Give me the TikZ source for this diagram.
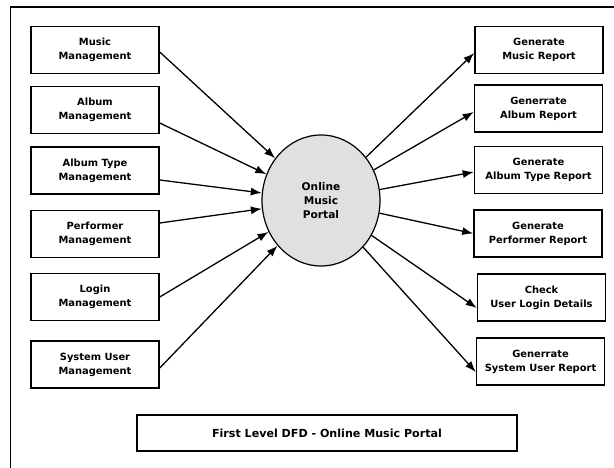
\documentclass[tikz,border=0pt]{standalone}
\usepackage{fontspec}
\setmainfont{DejaVu Sans}
\usetikzlibrary{shapes.geometric,arrows.meta}
\definecolor{portalgray}{HTML}{E0E0E0}
\begin{document}
\begin{tikzpicture}[x=1pt,y=-1pt,
	every node/.style={font=\bfseries\fontsize{9.9}{13.8}\selectfont, align=center},
	procbox/.style={draw, line width=1.5pt, minimum width=128pt, minimum height=47pt, inner sep=2pt},
	flow/.style={-{Latex[length=11pt,width=8pt]}, line width=1.3pt}]
		\useasboundingbox (0,0) rectangle (614,468);
		\draw[line width=1.5pt] (10.5,468) -- (10.5,7) -- (614,7);
		% left side
		\node[procbox] (mm) at (95,50) {Music\\Management};
		\node[procbox] (am) at (95,110) {Album\\Management};
		\node[procbox] (atm) at (95,170.5) {Album Type\\Management};
		\node[procbox] (pm) at (95,234) {Performer\\Management};
		\node[procbox] (lm) at (95,297) {Login\\Management};
		\node[procbox] (sum) at (95,364.5) {System User\\Management};
		% centre
		\node[ellipse, draw, line width=1.2pt, fill=portalgray, minimum width=118pt, minimum height=131pt, inner sep=0pt,
			font=\bfseries\fontsize{10.6}{14}\selectfont] (portal) at (321,200.5) {Online\\Music\\Portal};
		% right side
		\node[procbox] (gmr) at (539,50) {Generate\\Music Report};
		\node[procbox] (gar) at (538.5,108.5) {Generrate\\Album Report};
		\node[procbox] (gatr) at (538.5,170) {Generate\\Album Type Report};
		\node[procbox] (gpr) at (538,233.5) {Generate\\Performer Report};
		\node[procbox] (culd) at (541.5,297.5) {Check\\User Login Details};
		\node[procbox] (gsur) at (540.5,361.5) {Generrate\\System User Report};
		\node[draw, line width=1.5pt, minimum width=380pt, minimum height=36pt,
			font=\bfseries\fontsize{11.1}{14}\selectfont] (title) at (327,433) {First Level DFD - Online Music Portal};
		\draw[flow] ([yshift=-2pt]mm.east) -- (portal);
		\draw[flow] ([yshift=-13pt]am.east) -- (portal);
		\draw[flow] ([yshift=-9.5pt]atm.east) -- (portal);
		\draw[flow] ([yshift=11pt]pm.east) -- (portal);
		\draw[flow] (lm.east) -- (portal);
		\draw[flow] ([yshift=-3.5pt]sum.east) -- (portal);
		\draw[flow] (portal) -- ([yshift=-3pt]gmr.west);
		\draw[flow] (portal) -- ([yshift=-3.5pt]gar.west);
		\draw[flow] (portal) -- ([yshift=-2pt]gatr.west);
		\draw[flow] (portal) -- (gpr.west);
		\draw[flow] (portal) -- ([yshift=-10.5pt]culd.west);
		\draw[flow] (portal) -- ([yshift=-10.5pt]gsur.west);
\end{tikzpicture}
\end{document}
